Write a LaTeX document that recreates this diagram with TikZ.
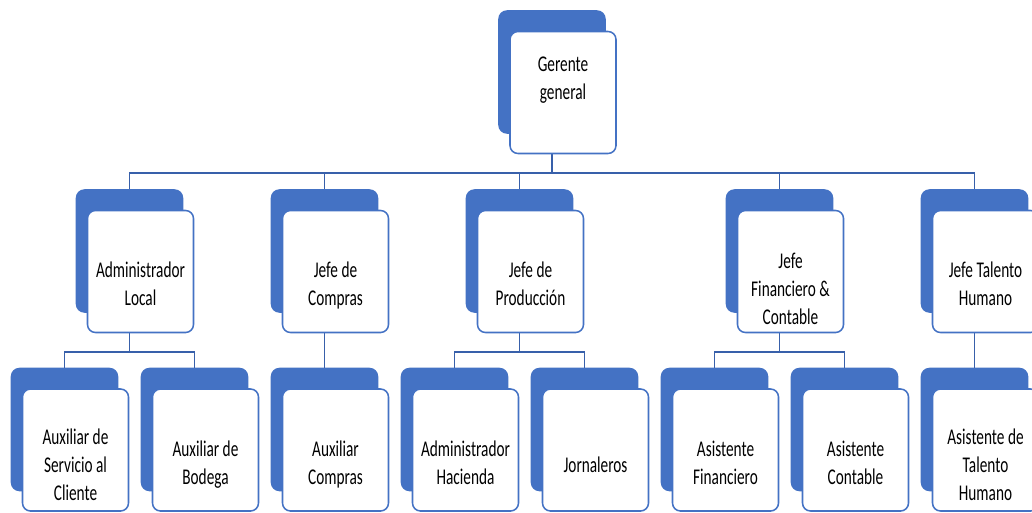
\documentclass[tikz,border=0pt]{standalone}
\usepackage{fontspec}
\setmainfont{Carlito}
\usepackage{graphicx}
\usepackage{tikz}
\definecolor{cardblue}{RGB}{68,114,196}
\definecolor{linkblue}{RGB}{56,96,170}
% text of a card, squeezed and lowered a little
\newcommand{\cardtext}[2][5.2mm]{\raisebox{-#1}[0pt][0pt]{\scalebox{0.68}[1]{\begin{tabular}{@{}c@{}}#2\end{tabular}}}}
\tikzset{
  link/.style={draw=linkblue,line width=1.1pt},
  backcard/.style={draw=cardblue,fill=cardblue,rounded corners=2mm,line width=1.1pt,
                   minimum width=26.5mm,minimum height=30.5mm,inner sep=0pt},
  card/.style={backcard,fill=white,font=\fontsize{16}{20}\selectfont},
}

\begin{document}
\begin{tikzpicture}[x=0.25mm,y=-0.25mm]
  \path[use as bounding box] (0,0) rectangle (1032,512);

  % back cards
  \node[backcard] (gerente-bk) at (552,72) {};
  \node[backcard] (admlocal-bk) at (129.5,251) {};
  \node[backcard] (compras-bk) at (324.5,251) {};
  \node[backcard] (produccion-bk) at (519.5,251) {};
  \node[backcard] (financiero-bk) at (779.5,251) {};
  \node[backcard] (talento-bk) at (974.5,251) {};
  \node[backcard] (auxservicio-bk) at (64.5,429.5) {};
  \node[backcard] (auxbodega-bk) at (194.5,429.5) {};
  \node[backcard] (auxcompras-bk) at (324.5,429.5) {};
  \node[backcard] (admhacienda-bk) at (454.5,429.5) {};
  \node[backcard] (jornaleros-bk) at (584.5,429.5) {};
  \node[backcard] (asisfin-bk) at (714.5,429.5) {};
  \node[backcard] (asiscont-bk) at (844.5,429.5) {};
  \node[backcard] (asistalento-bk) at (974.5,429.5) {};

  % connectors
  \foreach \c in {admlocal,compras,produccion,financiero,talento}
    \draw[link] (gerente-bk.south) -- ++(0,39) -| (\c-bk.north);
  \foreach \c in {auxservicio,auxbodega}
    \draw[link] (admlocal-bk.south) -- ++(0,39) -| (\c-bk.north);
  \draw[link] (compras-bk.south) -- (auxcompras-bk.north);
  \foreach \c in {admhacienda,jornaleros}
    \draw[link] (produccion-bk.south) -- ++(0,39) -| (\c-bk.north);
  \foreach \c in {asisfin,asiscont}
    \draw[link] (financiero-bk.south) -- ++(0,39) -| (\c-bk.north);
  \draw[link] (talento-bk.south) -- (asistalento-bk.north);

  % front cards
  \node[card] (gerente) at (563,92.5) {\cardtext[-1.6mm]{Gerente\\general}};
  \node[card] (admlocal) at (140.5,271.5) {\cardtext{Administrador\\Local}};
  \node[card] (compras) at (335.5,271.5) {\cardtext{Jefe de\\Compras}};
  \node[card] (produccion) at (530.5,271.5) {\cardtext{Jefe de\\Producción}};
  \node[card] (financiero) at (790.5,271.5) {\cardtext[6.3mm]{Jefe\\Financiero \&\\Contable}};
  \node[card] (talento) at (985.5,271.5) {\cardtext{Jefe Talento\\Humano}};
  \node[card] (auxservicio) at (75.5,450) {\cardtext[5.7mm]{Auxiliar de\\Servicio al\\Cliente}};
  \node[card] (auxbodega) at (205.5,450) {\cardtext{Auxiliar de\\Bodega}};
  \node[card] (auxcompras) at (335.5,450) {\cardtext{Auxiliar\\Compras}};
  \node[card] (admhacienda) at (465.5,450) {\cardtext{Administrador\\Hacienda}};
  \node[card] (jornaleros) at (595.5,450) {\cardtext[5.7mm]{Jornaleros}};
  \node[card] (asisfin) at (725.5,450) {\cardtext{Asistente\\Financiero}};
  \node[card] (asiscont) at (855.5,450) {\cardtext{Asistente\\Contable}};
  \node[card] (asistalento) at (985.5,450) {\cardtext[5.7mm]{Asistente de\\Talento\\Humano}};
\end{tikzpicture}
\end{document}
